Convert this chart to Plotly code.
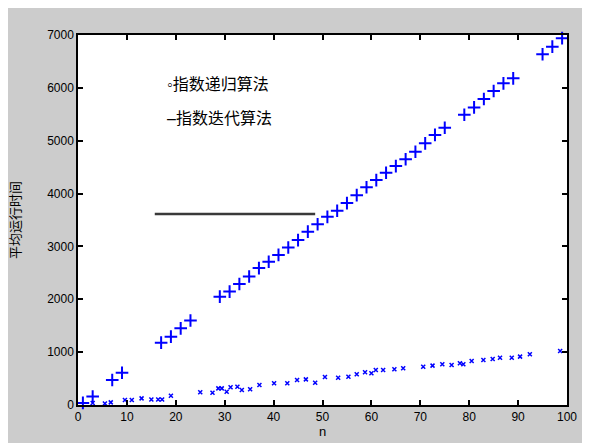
import plotly.graph_objects as go

# Upper series (+ markers)
n_iter = [1, 3, 7, 9, 17, 19, 21, 23, 29, 31, 33, 35, 37, 39, 41, 43, 45, 47, 49, 51,
          53, 55, 57, 59, 61, 63, 65, 67, 69, 71, 73, 75, 79, 81, 83, 85, 87, 89, 95, 97, 99]
t_iter = [40, 160, 473, 611, 1180, 1293, 1450, 1600, 2050, 2145, 2290, 2430, 2590, 2710,
          2840, 2980, 3120, 3280, 3420, 3560, 3675, 3820, 3970, 4120, 4255, 4395, 4520,
          4650, 4790, 4950, 5110, 5245, 5490, 5630, 5790, 5940, 6085, 6180, 6635, 6780, 6940]

# Lower series (small markers)
n_rec = [3, 5.5, 6.7, 9.6, 11, 13, 15, 16.4, 17.2, 19, 25, 27.5, 28.7, 29.4, 30.4, 31.2,
         32.6, 33.5, 35.2, 37.1, 40.1, 42.8, 44.8, 46.6, 48.5, 50.5, 53.2, 55.3, 57, 58.7,
         60, 60.9, 62.4, 64.7, 66.5, 70.6, 72.5, 74.5, 76.4, 78.1, 78.8, 80.5, 82.9, 84.8,
         86.3, 88.7, 90.4, 92.4, 98.6]
t_rec = [38, 30, 50, 95, 95, 125, 105, 105, 105, 175, 240, 233, 315, 315, 252, 335,
         347, 284, 297, 378, 410, 410, 473, 485, 422, 530, 517, 535, 580, 618,
         600, 662, 662, 675, 694, 725, 745, 770, 757, 790, 770, 832, 850, 870,
         895, 895, 915, 960, 1020]

# Black segment
seg_x = [15.7, 48.5]
seg_y = [3613, 3613]

legend_labels = ["\u25e6指数递归算法", "\u2013指数迭代算法"]
legend_pos_x = [17.8, 17.8]
legend_pos_y = [6073, 5430]

x_ticks = list(range(0, 101, 10))
y_ticks = list(range(0, 7001, 1000))

fig = go.Figure()
fig.add_trace(go.Scatter(x=seg_x, y=seg_y, mode="lines",
                         line=dict(color="#3a3a3a", width=2.5), showlegend=False))
fig.add_trace(go.Scatter(x=n_iter, y=t_iter, mode="markers",
                         marker=dict(symbol="cross-thin", size=9, color="#0000ff",
                                     line=dict(color="#0000ff", width=2)),
                         showlegend=False, cliponaxis=False))
fig.add_trace(go.Scatter(x=n_rec, y=t_rec, mode="markers",
                         marker=dict(symbol="x-thin", size=4, color="#0000ff",
                                     line=dict(color="#0000ff", width=1.5)),
                         showlegend=False, cliponaxis=False))

for txt, lx, ly in zip(legend_labels, legend_pos_x, legend_pos_y):
    fig.add_annotation(x=lx, y=ly, text=txt, showarrow=False, xanchor="left",
                       yanchor="middle", font=dict(size=16, color="black"))

axis_common = dict(showline=True, linecolor="black", linewidth=1.5, mirror="ticks",
                   ticks="inside", ticklen=5, tickwidth=1.5, tickcolor="black",
                   showgrid=False, zeroline=False, automargin=False,
                   tickfont=dict(size=12, color="black"))

fig.update_xaxes(range=[0, 100], tickvals=x_ticks,
                 title=dict(text="n", standoff=2, font=dict(size=13, color="black")),
                 **axis_common)
fig.update_yaxes(range=[0, 7000], tickvals=y_ticks,
                 title=dict(text="平均运行时间", standoff=26, font=dict(size=13, color="black")),
                 **axis_common)

fig.update_layout(width=590, height=443,
                  margin=dict(l=70, r=31, t=27, b=46, autoexpand=False),
                  paper_bgcolor="#cccccc", plot_bgcolor="white",
                  font=dict(family="Liberation Sans, Noto Sans CJK SC, sans-serif"))

fig.write_html("out.html")
